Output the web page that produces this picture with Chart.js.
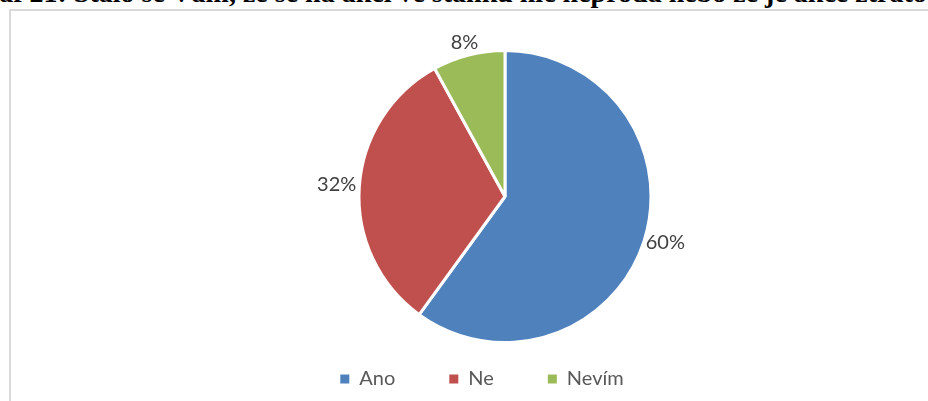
<!DOCTYPE html>
<html>
<head>
<meta charset="utf-8">
<script src="https://cdn.jsdelivr.net/npm/chart.js@4.4.1/dist/chart.umd.min.js"></script>
<style>
  html, body { margin: 0; padding: 0; background: #fff; }
  body { width: 928px; height: 401px; position: relative; overflow: hidden; }
  .title {
    position: absolute; left: -35px; top: -21px;
    font: bold 28px "Liberation Serif", serif; line-height: 28px;
    white-space: nowrap; color: #000;
  }
  .frame {
    position: absolute; left: 9px; top: 9px; width: 1200px; height: 1200px;
    border: 2px solid #d9d9d9;
  }
  .chart-box { position: absolute; left: 0; top: 0; width: 928px; height: 401px; }
</style>
</head>
<body>
<div class="title">Graf 21: Stalo se Vám, že se na akci ve stánku nic neprodá nebo že je akce ztrátová?</div>
<div class="frame"></div>
<div class="chart-box"><canvas id="pieChart"></canvas></div>
<script>
const categories = ['Ano', 'Ne', 'Nevím'];
const shares = [60, 32, 8];
const sliceColors = ['#4f81bd', '#c0504d', '#9bbb59'];

// procenta vedle výsečí
const outsideLabels = {
  id: 'outsideLabels',
  afterDatasetsDraw(chart) {
    const ctx = chart.ctx;
    const meta = chart.getDatasetMeta(0);
    ctx.save();
    ctx.font = '20px Lato';
    ctx.fillStyle = '#404040';
    ctx.textAlign = 'center';
    ctx.textBaseline = 'middle';
    meta.data.forEach((arc, i) => {
      const { x, y, startAngle, endAngle, outerRadius } = arc.getProps(['x', 'y', 'startAngle', 'endAngle', 'outerRadius'], true);
      const mid = (startAngle + endAngle) / 2;
      const text = shares[i] + '%';
      const w = ctx.measureText(text).width;
      const h = 16;
      const ax = x + Math.cos(mid) * (outerRadius + 3);
      const ay = y + Math.sin(mid) * (outerRadius + 3);
      ctx.fillText(text, ax + Math.cos(mid) * w / 2, ay + Math.sin(mid) * h / 2 - 2);
    });
    ctx.restore();
  }
};

// legenda je v Excelu o kus vlevo od středu koláče
const legendShift = {
  id: 'legendShift',
  afterLayout(chart) {
    chart.legend.left -= 23;
    chart.legend.right -= 23;
  }
};

const ctx = document.getElementById('pieChart').getContext('2d');
new Chart(ctx, {
  type: 'pie',
  data: {
    labels: categories,
    datasets: [{
      data: shares,
      backgroundColor: sliceColors,
      borderColor: '#ffffff',
      borderWidth: 3,
      radius: 146,
      clip: false
    }]
  },
  options: {
    responsive: true,
    maintainAspectRatio: false,
    animation: false,
    layout: { padding: { top: 78, left: 82, right: 0, bottom: 2 } },
    plugins: {
      tooltip: { enabled: false },
      legend: {
        position: 'bottom',
        labels: {
          color: '#595959',
          font: { family: 'Lato', size: 20 },
          boxWidth: 9,
          boxHeight: 9,
          padding: 54,
          generateLabels(chart) {
            const items = Chart.overrides.pie.plugins.legend.labels.generateLabels(chart);
            return items.map(it => Object.assign(it, { lineWidth: 0 }));
          }
        }
      }
    }
  },
  plugins: [outsideLabels, legendShift]
});
</script>
</body>
</html>
